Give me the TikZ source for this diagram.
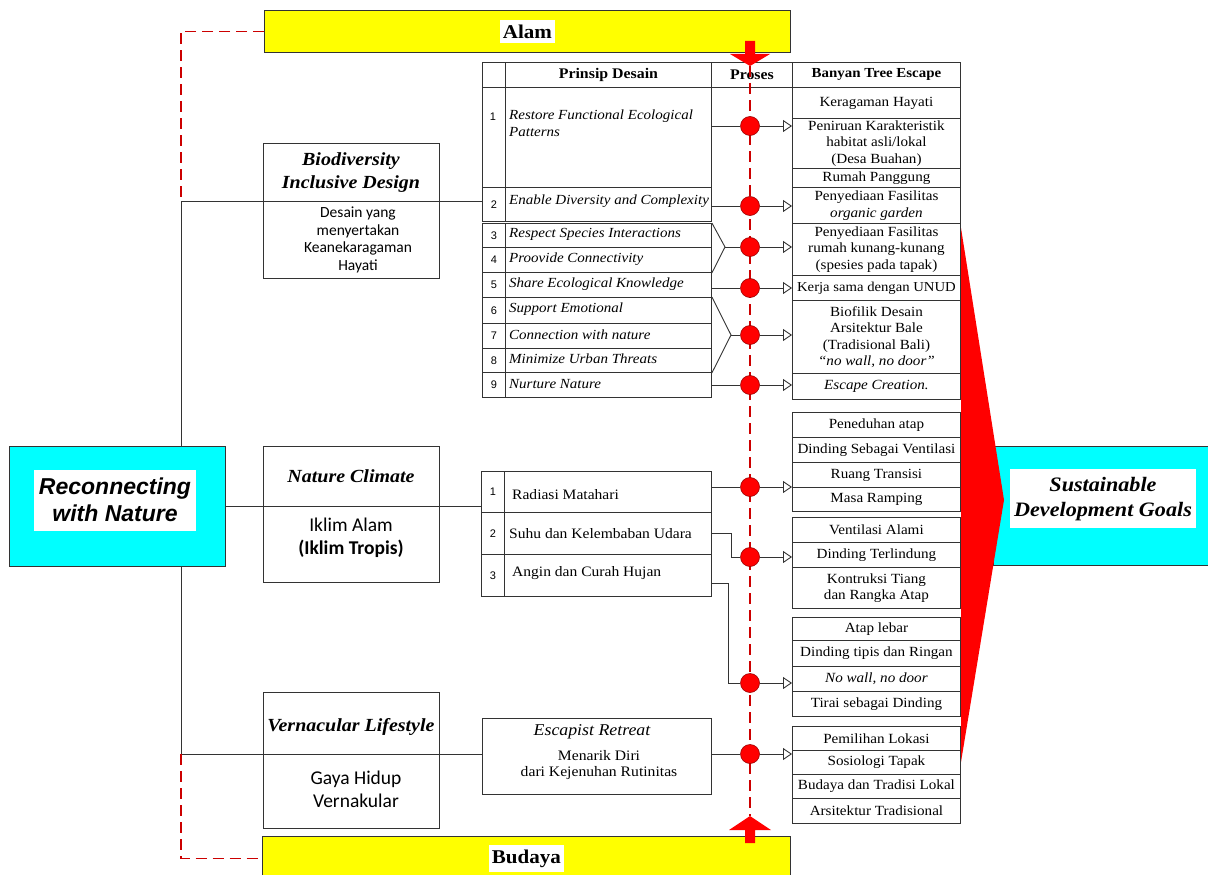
\documentclass[tikz,border=0pt]{standalone}
\usepackage{fontspec}
\setmainfont{Liberation Serif}[FakeStretch=1.08]
\newfontfamily\calfont{Carlito}
\newfontfamily\arfont{Liberation Sans}
\usetikzlibrary{arrows.meta}
\definecolor{aqua}{RGB}{0,255,255}
\definecolor{yel}{RGB}{255,255,0}
\definecolor{rd}{RGB}{255,0,0}

\tikzset{
  cell/.style={draw=black!80, line width=0.9pt, inner sep=0pt, anchor=north west},
  barlbl/.style={fill=white, inner xsep=3pt, inner ysep=5pt, font=\bfseries\fontsize{19.5}{21}\selectfont},
  goal/.style={align=center, font=\arfont\bfseries\itshape\fontsize{23}{27}\selectfont},
  theme/.style={align=center, font=\bfseries\itshape\fontsize{18.5}{23}\selectfont},
  sub/.style={align=center, font=\calfont\fontsize{15.5}{17.5}\selectfont},
  hdr/.style={font=\bfseries\fontsize{14.7}{16}\selectfont},
  num/.style={font=\arfont\fontsize{11}{13}\selectfont},
  pt/.style={inner sep=0pt, font=\itshape\fontsize{13.9}{17}\selectfont},
  ct/.style={inner sep=0pt, font=\fontsize{14.4}{16}\selectfont},
  bt/.style={align=center, font=\fontsize{14}{16.5}\selectfont},
  dot/.style={circle, fill=rd, draw=red!60!black, line width=0.6pt, inner sep=0pt, minimum size=19pt},
  link/.style={draw=black!80, line width=0.9pt},
  tolink/.style={link, -{Triangle[open, length=9pt, width=12pt]}},
  reddash/.style={draw=red!80!black, line width=1.4pt, dash pattern=on 11pt off 6pt}
}

\begin{document}
\begin{tikzpicture}[x=1pt, y=-1pt]
\useasboundingbox (0,0) rectangle (1208,875);

% yellow bars
\node[cell, fill=yel, minimum width=526, minimum height=42] (alam) at (264,10) {};
\node[barlbl] (alamlbl) at (alam.center) {Alam};
\node[cell, fill=yel, minimum width=528, minimum height=44] (budaya) at (262,836) {};
\node[barlbl] (budayalbl) at (budaya.center) {Budaya};

% start and goal
\node[cell, fill=aqua, minimum width=216, minimum height=120] (recon) at (9,446) {};
\node[cell, fill=white, draw=none, minimum width=162, minimum height=61] (reconin) at (34,470) {};
\node[goal] (recontxt) at (115,500) {Reconnecting\\with Nature};
\node[cell, fill=aqua, minimum width=230, minimum height=119] (sdg) at (993,446) {};
\node[cell, fill=white, draw=none, minimum width=186, minimum height=59] (sdgin) at (1010,469) {};
\node[align=center, font=\bfseries\itshape\fontsize{20.5}{25}\selectfont] (sdgtxt) at (1103,499) {Sustainable\\Development Goals};

% themes
\node[cell, minimum width=176, minimum height=135] (bio) at (263,143) {};
\node[theme] (biott) at (351,173) {Biodiversity\\Inclusive Design};
\node[sub] (biosub) at (358,240) {Desain yang\\menyertakan\\Keanekaragaman\\Hayati};
\node[cell, minimum width=176, minimum height=136] (clim) at (263,446) {};
\node[theme] (climtt) at (351,476) {Nature Climate};
\node[sub, font=\calfont\fontsize{19.5}{23}\selectfont] (climsub) at (351,538) {Iklim Alam\\\textbf{(Iklim Tropis)}};
\node[cell, minimum width=176, minimum height=136] (vern) at (263,692) {};
\node[theme] (verntt) at (351,727) {Vernacular Lifestyle};
\node[sub, font=\calfont\fontsize{19.5}{23}\selectfont] (vernsub) at (356,789) {Gaya Hidup\\Vernakular};

% header
\node[cell, minimum width=23, minimum height=25] (h0) at (482,62) {};
\node[cell, hdr, minimum width=206, minimum height=25] (h1) at (505,62) {Prinsip Desain};
\node[cell, hdr, minimum width=81, minimum height=25] (h2) at (711,62) {Proses};
\node[cell, hdr, font=\bfseries\fontsize{13.8}{15}\selectfont, minimum width=168, minimum height=25] (h3) at (792,62) {Banyan Tree Escape};

% design principles
\node[cell, minimum width=23, minimum height=100] (i1) at (482,87) {};
\node[num] (i1n) at (493,117) {1};
\node[cell, minimum width=206, minimum height=100] (p1) at (505,87) {};
\node[pt, anchor=north west, align=left] (t1) at (509,110) {Restore Functional Ecological\\Patterns};
\node[cell, num, minimum width=23, minimum height=34] (i2) at (482,187) {2};
\node[cell, minimum width=206, minimum height=34] (p2) at (505,187) {};
\node[pt, anchor=west] (t2) at (509,201) {Enable Diversity and Complexity};
\node[cell, num, minimum width=23, minimum height=24] (i3) at (482,223) {3};
\node[cell, minimum width=206, minimum height=24] (p3) at (505,223) {};
\node[pt, anchor=west] (t3) at (509,234) {Respect Species Interactions};
\node[cell, num, minimum width=23, minimum height=25] (i4) at (482,247) {4};
\node[cell, minimum width=206, minimum height=25] (p4) at (505,247) {};
\node[pt, anchor=west] (t4) at (509,259) {Proovide Connectivity};
\node[cell, num, minimum width=23, minimum height=25] (i5) at (482,272) {5};
\node[cell, minimum width=206, minimum height=25] (p5) at (505,272) {};
\node[pt, anchor=west] (t5) at (509,284) {Share Ecological Knowledge};
\node[cell, num, minimum width=23, minimum height=26] (i6) at (482,297) {6};
\node[cell, minimum width=206, minimum height=26] (p6) at (505,297) {};
\node[pt, anchor=west] (t6) at (509,309) {Support Emotional};
\node[cell, num, minimum width=23, minimum height=25] (i7) at (482,323) {7};
\node[cell, minimum width=206, minimum height=25] (p7) at (505,323) {};
\node[pt, anchor=west] (t7) at (509,335) {Connection with nature};
\node[cell, num, minimum width=23, minimum height=24] (i8) at (482,348) {8};
\node[cell, minimum width=206, minimum height=24] (p8) at (505,348) {};
\node[pt, anchor=west] (t8) at (509,359) {Minimize Urban Threats};
\node[cell, num, minimum width=23, minimum height=25] (i9) at (482,372) {9};
\node[cell, minimum width=206, minimum height=25] (p9) at (505,372) {};
\node[pt, anchor=west] (t9) at (509,384) {Nurture Nature};

% banyan tree escape
\node[cell, bt, minimum width=168, minimum height=31] (k1) at (792,87) {Keragaman Hayati};
\node[cell, bt, minimum width=168, minimum height=50] (k2) at (792,118) {Peniruan Karakteristik\\habitat asli/lokal\\(Desa Buahan)};
\node[cell, bt, minimum width=168, minimum height=19] (k3) at (792,168) {Rumah Panggung};
\node[cell, bt, minimum width=168, minimum height=36] (k4) at (792,187) {Penyediaan Fasilitas\\\textit{organic garden}};
\node[cell, bt, minimum width=168, minimum height=52] (k5) at (792,223) {Penyediaan Fasilitas\\rumah kunang-kunang\\(spesies pada tapak)};
\node[cell, bt, font=\fontsize{13.6}{16.5}\selectfont, minimum width=168, minimum height=25] (k6) at (792,275) {Kerja sama dengan UNUD};
\node[cell, bt, minimum width=168, minimum height=73] (k7) at (792,300) {Biofilik Desain\\Arsitektur Bale\\(Tradisional Bali)\\\textit{“no wall, no door”}};
\node[cell, bt, minimum width=168, minimum height=26] (k8) at (792,373) {\textit{Escape Creation.}};

% nature climate
\node[cell, num, minimum width=23, minimum height=41] (j1) at (481,471) {1};
\node[cell, minimum width=207, minimum height=41] (m1) at (504,471) {};
\node[ct, anchor=west] (s1) at (512,495) {Radiasi Matahari};
\node[cell, num, minimum width=23, minimum height=42] (j2) at (481,512) {2};
\node[cell, minimum width=207, minimum height=42] (m2) at (504,512) {};
\node[ct, anchor=west] (s2) at (509,534) {Suhu dan Kelembaban Udara};
\node[cell, num, minimum width=23, minimum height=42] (j3) at (481,554) {3};
\node[cell, minimum width=207, minimum height=42] (m3) at (504,554) {};
\node[ct, anchor=west] (s3) at (512,573) {Angin dan Curah Hujan};

\node[cell, bt, minimum width=168, minimum height=25] (ga1) at (792,412) {Peneduhan atap};
\node[cell, bt, minimum width=168, minimum height=25] (ga2) at (792,437) {Dinding Sebagai Ventilasi};
\node[cell, bt, minimum width=168, minimum height=25] (ga3) at (792,462) {Ruang Transisi};
\node[cell, bt, minimum width=168, minimum height=24] (ga4) at (792,487) {Masa Ramping};
\node[cell, bt, minimum width=168, minimum height=25] (gb1) at (792,517) {Ventilasi Alami};
\node[cell, bt, minimum width=168, minimum height=25] (gb2) at (792,542) {Dinding Terlindung};
\node[cell, bt, minimum width=168, minimum height=41] (gb3) at (792,567) {Kontruksi Tiang\\dan Rangka Atap};
\node[cell, bt, minimum width=168, minimum height=23] (gc1) at (792,617) {Atap lebar};
\node[cell, bt, minimum width=168, minimum height=26] (gc2) at (792,640) {Dinding tipis dan Ringan};
\node[cell, bt, minimum width=168, minimum height=25] (gc3) at (792,666) {\textit{No wall, no door}};
\node[cell, bt, minimum width=168, minimum height=25] (gc4) at (792,691) {Tirai sebagai Dinding};

% vernacular
\node[cell, minimum width=229, minimum height=76] (esc) at (482,718) {};
\node[font=\itshape\fontsize{16.5}{18}\selectfont] (esctt) at (592,732) {Escapist Retreat};
\node[align=center, font=\fontsize{14.5}{15.5}\selectfont] (escsub) at (599,765) {Menarik Diri\\dari Kejenuhan Rutinitas};
\node[cell, bt, minimum width=168, minimum height=24] (gd1) at (792,726) {Pemilihan Lokasi};
\node[cell, bt, minimum width=168, minimum height=24] (gd2) at (792,750) {Sosiologi Tapak};
\node[cell, bt, minimum width=168, minimum height=24] (gd3) at (792,774) {Budaya dan Tradisi Lokal};
\node[cell, bt, minimum width=168, minimum height=25] (gd4) at (792,798) {Arsitektur Tradisional};

% trunk lines
\coordinate (jt) at (181,201);
\coordinate (jb) at (181,754);
\draw[link] (jt) -- (recon.north -| jt);
\draw[link] (recon.south -| jt) -- (jb);
\draw[link] (jt) -- (jt -| i2.west);
\draw[link] (recon.east) -- (recon.east -| j1.west);
\draw[link] (jb) -- (jb -| esc.west);
\draw[reddash] (alam.west) -| (jt);
\draw[reddash] (jb) |- (budaya.west);

% process line
\coordinate (ptop) at (750,66);
\coordinate (pbot) at (750,816);
\draw[reddash] (ptop) -- (pbot);
\fill[rd] (745,41) -- (755,41) -- (755,54) -- (770,54) -- (ptop) -- (730,54) -- (745,54) -- cycle;
\fill[rd] (745,843) -- (755,843) -- (755,830) -- (771,830) -- (pbot) -- (729,830) -- (745,830) -- cycle;

\node[dot] (r1) at (750,126) {};
\node[dot] (r2) at (750,206) {};
\node[dot] (r34) at (750,247) {};
\node[dot] (r5) at (750,288) {};
\node[dot] (r68) at (750,335) {};
\node[dot] (r9) at (750,385) {};
\node[dot] (n1) at (750,487) {};
\node[dot] (n2) at (750,557) {};
\node[dot] (n3) at (750,683) {};
\node[dot] (e1) at (750,754) {};

\draw[link] (r1 -| p1.east) -- (r1);
\draw[tolink] (r1) -- (r1 -| k2.west);
\draw[link] (r2 -| p2.east) -- (r2);
\draw[tolink] (r2) -- (r2 -| k4.west);
\coordinate (b34) at (725,247);
\draw[link] (p3.north east) -- (b34) -- (p4.south east);
\draw[link] (b34) -- (r34);
\draw[tolink] (r34) -- (r34 -| k5.west);
\draw[link] (r5 -| p5.east) -- (r5);
\draw[tolink] (r5) -- (r5 -| k6.west);
\coordinate (b68) at (731,335);
\draw[link] (p6.north east) -- (b68) -- (p8.south east);
\draw[link] (b68) -- (r68);
\draw[tolink] (r68) -- (r68 -| k7.west);
\draw[link] (r9 -| p9.east) -- (r9);
\draw[tolink] (r9) -- (r9 -| k8.west);
\draw[link] (n1 -| m1.east) -- (n1);
\draw[tolink] (n1) -- (n1 -| ga1.west);
\draw[link] (m2.east) -- ++(20,0) |- (n2);
\draw[tolink] (n2) -- (n2 -| gb1.west);
\draw[link] ([yshift=-8pt]m3.east) -- ++(17,0) |- (n3);
\draw[tolink] (n3) -- (n3 -| gc1.west);
\draw[link] (e1 -| esc.east) -- (e1);
\draw[tolink] (e1) -- (e1 -| gd1.west);

% wedge to the goals
\fill[rd] (961,228) -- (1004,500) -- (961,762) -- cycle;
\end{tikzpicture}
\end{document}
